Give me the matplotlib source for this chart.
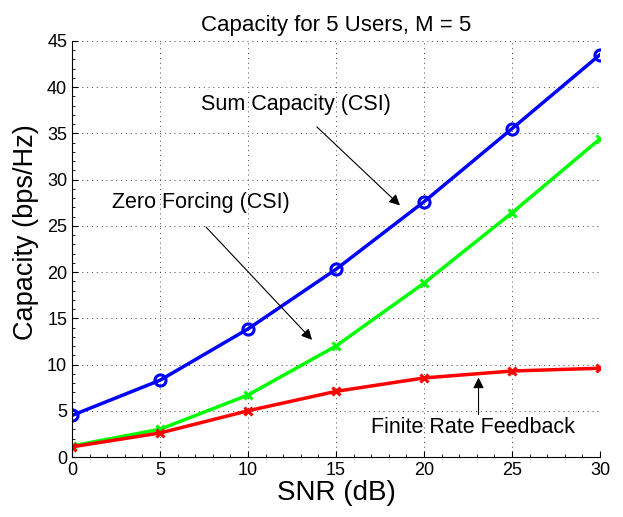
import numpy as np
import matplotlib.pyplot as plt
from matplotlib.ticker import MultipleLocator

plt.rcParams['font.family'] = ['Liberation Sans', 'DejaVu Sans']

snr = [0, 5, 10, 15, 20, 25, 30]
sum_capacity = [4.5, 8.3, 13.85, 20.3, 27.6, 35.5, 43.5]
zero_forcing = [1.2, 3.0, 6.7, 12.0, 18.8, 26.4, 34.4]
finite_rate = [1.1, 2.6, 5.0, 7.1, 8.55, 9.3, 9.6]

fig = plt.figure(figsize=(6.23, 5.17), dpi=100)
ax = fig.add_axes([0.1156, 0.116, 0.8474, 0.805])

ax.plot(snr, sum_capacity, color='#0000ff', lw=2.5, marker='o', ms=8,
        mfc='none', mew=2.2)
ax.plot(snr, zero_forcing, color='#00ff00', lw=2.5, marker='x', ms=6, mew=2.2)
ax.plot(snr, finite_rate, color='#ff0000', lw=2.5, marker='x', ms=6, mew=2.2)

ax.set_xlim(0, 30)
ax.set_ylim(0, 45)
ax.xaxis.set_major_locator(MultipleLocator(5))
ax.yaxis.set_major_locator(MultipleLocator(5))
ax.xaxis.set_minor_locator(MultipleLocator(1))
ax.yaxis.set_minor_locator(MultipleLocator(1))
ax.tick_params(which='both', direction='in', labelsize=13)
ax.tick_params(which='major', length=4)
ax.tick_params(which='minor', length=2)
ax.grid(True, which='major', linestyle=(0, (1, 4)), color='#444444', lw=0.7)
ax.spines['top'].set_visible(False)
ax.spines['right'].set_visible(False)

ax.set_title('Capacity for 5 Users, M = 5', fontsize=16, pad=7)
ax.set_xlabel('SNR (dB)', fontsize=20, labelpad=1)
ax.set_ylabel('Capacity (bps/Hz)', fontsize=19.5)
ax.yaxis.set_label_coords(-0.062, 0.54)

arrow = dict(arrowstyle='-|>', color='black', lw=0.8, mutation_scale=16)
ax.annotate('Sum Capacity (CSI)', xy=(12.7, 38.1), ha='center', va='center',
            fontsize=15.5)
ax.annotate('', xy=(18.75, 27.0), xytext=(13.8, 35.9), arrowprops=arrow)
ax.annotate('Zero Forcing (CSI)', xy=(7.3, 27.5), ha='center', va='center',
            fontsize=15.5)
ax.annotate('', xy=(13.75, 12.45), xytext=(7.5, 25.1), arrowprops=arrow)
ax.annotate('Finite Rate Feedback', xy=(22.8, 3.2), ha='center', va='center',
            fontsize=15.5)
ax.annotate('', xy=(23.1, 8.9), xytext=(23.1, 4.3), arrowprops=arrow)

fig.savefig('out.png', dpi=100)
